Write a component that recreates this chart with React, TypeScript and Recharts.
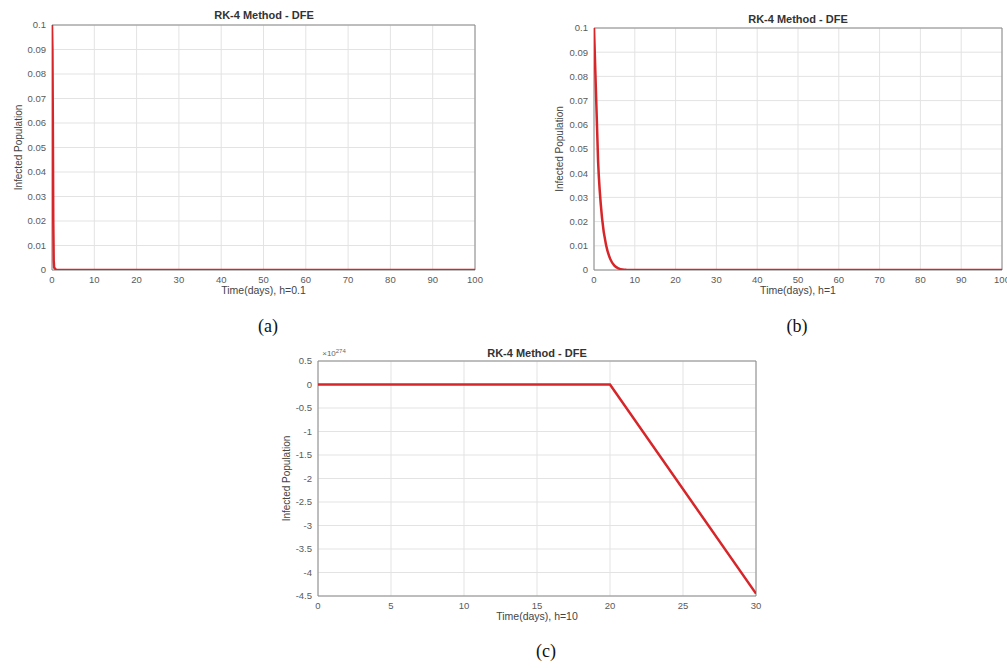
import React from "react"
import { LineChart, Line, XAxis, YAxis, CartesianGrid, ReferenceArea } from "recharts"

// ---- data ----
// (a) h = 0.1 : drops to zero almost at once
const timeA = [0, 0.1, 0.2, 0.3, 0.4, 0.5, 1, 100]
const infectedA = [0.1, 0.09, 0.06, 0.02, 0.004, 0.001, 0, 0]

// (b) h = 1 : smooth decay over the first ~8 days
const timeB = [0, 1, 2, 3, 4, 5, 6, 7, 8, 9, 10, 100]
const infectedB = [0.1, 0.045, 0.021, 0.01, 0.0045, 0.0018, 0.0007, 0.0002, 0.00005, 0, 0, 0]

// (c) h = 10 : values in units of 1e274
const timeC = [0, 10, 20, 30]
const infectedC = [0, 0, 0, -4.45]

const ticksX100 = [0, 10, 20, 30, 40, 50, 60, 70, 80, 90, 100]
const ticksY01 = [0, 0.01, 0.02, 0.03, 0.04, 0.05, 0.06, 0.07, 0.08, 0.09, 0.1]
const ticksX30 = [0, 5, 10, 15, 20, 25, 30]
const ticksYC = [0.5, 0, -0.5, -1, -1.5, -2, -2.5, -3, -3.5, -4, -4.5]

const title = "RK-4 Method - DFE"
const yLabel = "Infected Population"

const FONT = "'Liberation Sans', Arial, sans-serif"
const RED = "#d7262a"
const FRAME = "#8a8a8a"
const GRID = "#e3e3e3"
const TICK = { fontSize: 9.5, fill: "#5a5a5a", fontFamily: FONT }

const zip = (xs: number[], ys: number[]) => xs.map((t, i) => ({ t, v: ys[i] }))

type PanelProps = {
  left: number
  top: number
  width: number
  height: number
  margin: { top: number; right: number; bottom: number; left: number }
  data: { t: number; v: number }[]
  xDomain: [number, number]
  yDomain: [number, number]
  xTicks: number[]
  yTicks: number[]
  xLabel: string
  yLabelOffset: number
  curve: "linear" | "monotone"
}

function Panel(p: PanelProps) {
  return (
    <div style={{ position: "absolute", left: p.left, top: p.top }}>
      <LineChart width={p.width} height={p.height} data={p.data} margin={p.margin}>
        <CartesianGrid stroke={GRID} />
        <XAxis
          dataKey="t"
          type="number"
          domain={p.xDomain}
          ticks={p.xTicks}
          interval={0}
          height={20}
          tick={TICK}
          tickLine={false}
          axisLine={false}
          tickMargin={0}
          allowDataOverflow
          label={{ value: p.xLabel, position: "bottom", offset: -3, style: { fontSize: 10.5, fill: "#444", fontFamily: FONT } }}
        />
        <YAxis
          type="number"
          domain={p.yDomain}
          ticks={p.yTicks}
          interval={0}
          width={40}
          tick={TICK}
          tickLine={false}
          axisLine={false}
          tickMargin={0}
          allowDataOverflow
          label={{
            value: yLabel,
            angle: -90,
            position: "insideLeft",
            offset: p.yLabelOffset,
            style: { textAnchor: "middle", fontSize: 10, fill: "#444", fontFamily: FONT },
          }}
        />
        <ReferenceArea
          x1={p.xDomain[0]}
          x2={p.xDomain[1]}
          y1={p.yDomain[0]}
          y2={p.yDomain[1]}
          fill="none"
          stroke={FRAME}
          strokeWidth={1}
          ifOverflow="visible"
        />
        <Line
          type={p.curve}
          dataKey="v"
          stroke={RED}
          strokeWidth={2.5}
          dot={false}
          isAnimationActive={false}
        />
      </LineChart>
    </div>
  )
}

function Text({ x, y, children, style }: { x: number; y: number; children: React.ReactNode; style?: React.CSSProperties }) {
  return (
    <div
      style={{
        position: "absolute",
        left: x,
        top: y,
        transform: "translate(-50%, -50%)",
        whiteSpace: "nowrap",
        ...style,
      }}
    >
      {children}
    </div>
  )
}

const titleStyle: React.CSSProperties = { fontFamily: FONT, fontWeight: "bold", fontSize: 11, color: "#333" }
const captionStyle: React.CSSProperties = { fontFamily: "'Liberation Serif', 'Times New Roman', serif", fontSize: 18, color: "#111" }

export default function App() {
  return (
    <div style={{ position: "absolute", left: 0, top: 0, width: 1007, height: 668, background: "#fff", overflow: "hidden" }}>
      {/* (a) */}
      <Panel
        left={0}
        top={0}
        width={490}
        height={310}
        margin={{ top: 25, right: 15, bottom: 20, left: 12 }}
        data={zip(timeA, infectedA)}
        xDomain={[0, 100]}
        yDomain={[0, 0.1]}
        xTicks={ticksX100}
        yTicks={ticksY01}
        xLabel="Time(days), h=0.1"
        yLabelOffset={6}
        curve="linear"
      />
      <Text x={264} y={15} style={titleStyle}>{title}</Text>
      <Text x={268} y={326} style={captionStyle}>(a)</Text>

      {/* (b) */}
      <Panel
        left={540}
        top={0}
        width={475}
        height={310}
        margin={{ top: 28, right: 13, bottom: 20, left: 14 }}
        data={zip(timeB, infectedB)}
        xDomain={[0, 100]}
        yDomain={[0, 0.1]}
        xTicks={ticksX100}
        yTicks={ticksY01}
        xLabel="Time(days), h=1"
        yLabelOffset={5}
        curve="monotone"
      />
      <Text x={798} y={19} style={titleStyle}>{title}</Text>
      <Text x={797} y={326} style={captionStyle}>(b)</Text>

      {/* (c) */}
      <Panel
        left={270}
        top={330}
        width={500}
        height={300}
        margin={{ top: 31, right: 14, bottom: 14, left: 8 }}
        data={zip(timeC, infectedC)}
        xDomain={[0, 30]}
        yDomain={[-4.5, 0.5]}
        xTicks={ticksX30}
        yTicks={ticksYC}
        xLabel="Time(days), h=10"
        yLabelOffset={8}
        curve="linear"
      />
      <Text x={537} y={353} style={titleStyle}>{title}</Text>
      <Text x={334} y={353} style={{ fontFamily: FONT, fontSize: 8, color: "#666" }}>
        ×10<sup style={{ fontSize: 6 }}>274</sup>
      </Text>
      <Text x={546} y={651} style={captionStyle}>(c)</Text>
    </div>
  )
}
